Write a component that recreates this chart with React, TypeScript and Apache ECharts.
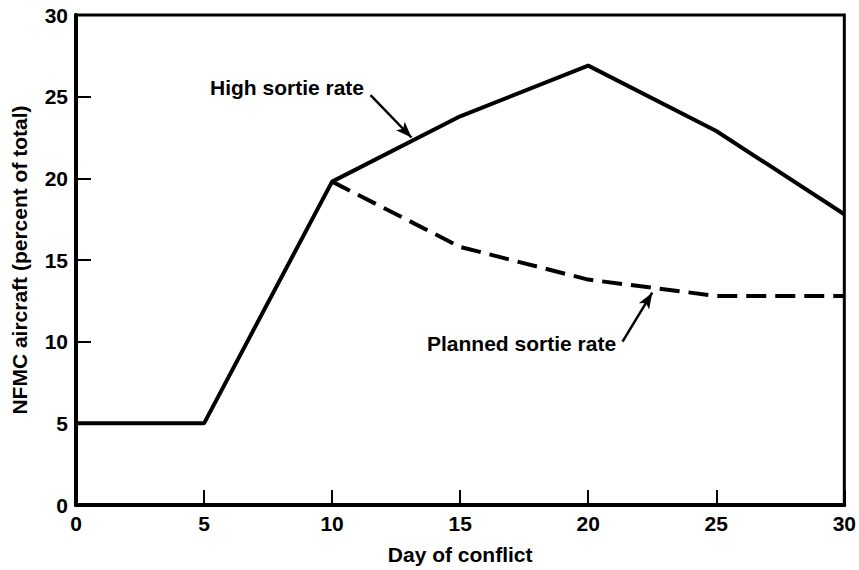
import React, { useEffect, useRef } from "react";
import * as echarts from "echarts";

const days = [0, 5, 10, 15, 20, 25, 30];
const highSortie = [5, 5, 19.8, 23.8, 26.9, 22.9, 17.8];
const plannedDays = [10, 15, 20, 25, 30];
const plannedSortie = [19.8, 15.8, 13.8, 12.8, 12.8];
const xTicks = [0, 5, 10, 15, 20, 25, 30];
const yTicks = [0, 5, 10, 15, 20, 25, 30];

const FONT = "'Liberation Sans', Arial, sans-serif";

export default function App() {
  const ref = useRef<HTMLDivElement>(null);
  useEffect(() => {
    if (!ref.current) return;
    const chart = echarts.init(ref.current, null, { renderer: "svg" });
    chart.setOption({
      animation: false,
      backgroundColor: "#fff",
      grid: {
        left: 76,
        right: 11,
        top: 15,
        bottom: 65,
        show: true,
        borderColor: "#000",
        borderWidth: 3,
        backgroundColor: "transparent",
      },
      xAxis: {
        type: "value",
        min: xTicks[0],
        max: xTicks[xTicks.length - 1],
        interval: 5,
        name: "Day of conflict",
        nameLocation: "middle",
        nameGap: 39,
        nameTextStyle: { fontFamily: FONT, fontWeight: "bold", fontSize: 21, color: "#000" },
        axisLine: { show: true, lineStyle: { color: "#000", width: 4 } },
        axisTick: { show: true, inside: true, length: 15, lineStyle: { color: "#000", width: 2 } },
        axisLabel: { fontFamily: FONT, fontWeight: "bold", fontSize: 21, color: "#000", margin: 8 },
        splitLine: { show: false },
      },
      yAxis: {
        type: "value",
        min: yTicks[0],
        max: yTicks[yTicks.length - 1],
        interval: 5,
        name: "NFMC aircraft (percent of total)",
        nameLocation: "middle",
        nameGap: 46,
        nameTextStyle: { fontFamily: FONT, fontWeight: "bold", fontSize: 21, color: "#000" },
        axisLine: { show: true, lineStyle: { color: "#000", width: 4 } },
        axisTick: { show: true, inside: true, length: 15, lineStyle: { color: "#000", width: 2 } },
        axisLabel: { fontFamily: FONT, fontWeight: "bold", fontSize: 21, color: "#000", margin: 8 },
        splitLine: { show: false },
      },
      series: [
        {
          name: "High sortie rate",
          type: "line",
          data: days.map((d, i) => [d, highSortie[i]]),
          showSymbol: false,
          lineStyle: { color: "#000", width: 4 },
          markLine: {
            silent: true,
            symbol: ["none", "arrow"],
            symbolSize: [9, 16],
            label: { show: false },
            lineStyle: { color: "#000", width: 2.5, type: "solid" },
            data: [[{ coord: [11.5, 25.1] }, { coord: [13.1, 22.5] }]],
          },
        },
        {
          name: "Planned sortie rate",
          type: "line",
          data: plannedDays.map((d, i) => [d, plannedSortie[i]]),
          showSymbol: false,
          lineStyle: { color: "#000", width: 4, type: [20, 9] },
          markLine: {
            silent: true,
            symbol: ["none", "arrow"],
            symbolSize: [9, 16],
            label: { show: false },
            lineStyle: { color: "#000", width: 2.5, type: "solid" },
            data: [[{ coord: [21.34, 10.0] }, { coord: [22.5, 13.0] }]],
          },
        },
      ],
      graphic: [
        {
          type: "text",
          right: 859 - 364,
          top: 77,
          style: { text: "High sortie rate", font: `bold 21px ${FONT}`, fill: "#000" },
        },
        {
          type: "text",
          left: 427,
          top: 333,
          style: { text: "Planned sortie rate", font: `bold 21px ${FONT}`, fill: "#000" },
        },
      ],
    });
    return () => chart.dispose();
  }, []);
  return <div ref={ref} style={{ width: 859, height: 570, position: "absolute", left: 0, top: 0 }} />;
}
